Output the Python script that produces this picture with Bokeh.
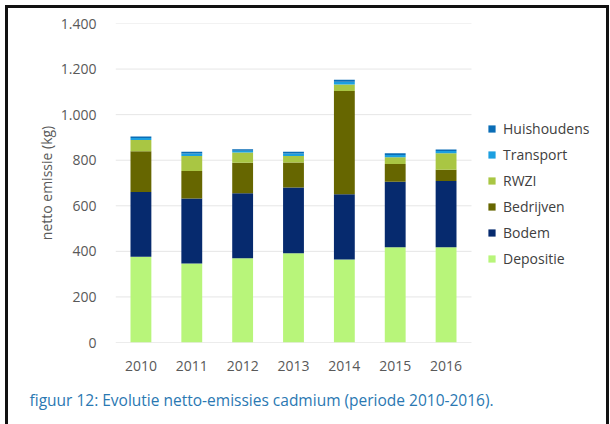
from bokeh.plotting import figure
from bokeh.models import (Range1d, FixedTicker, Legend, LegendItem, Title, ColumnDataSource)
from bokeh.embed import file_html
from bokeh.resources import INLINE

years = ["2010", "2011", "2012", "2013", "2014", "2015", "2016"]
depositie = [376, 347, 370, 392, 364, 418, 418]
bodem = [285, 285, 285, 288, 287, 288, 291]
bedrijven = [178, 121, 134, 110, 453, 77, 49]
rwzi = [50, 66, 45, 28, 28, 30, 73]
transport = [9, 11, 8, 11, 12, 10, 9]
huishoudens = [6, 7, 6, 8, 9, 8, 7]

series_names = ["Depositie", "Bodem", "Bedrijven", "RWZI", "Transport", "Huishoudens"]
colors = ["#b8f57a", "#062a6e", "#666600", "#a9c643", "#1c9fe0", "#0a6db6"]
y_ticks = [0, 200, 400, 600, 800, 1000, 1200, 1400]
y_tick_labels = ["0", "200", "400", "600", "800", "1.000", "1.200", "1.400"]
y_title = "netto emissie (kg)"
caption = "figuur 12: Evolutie netto-emissies cadmium (periode 2010-2016)."

FONT = "Open Sans"
W, H = 609, 424
LEFT, TOP, BOTTOM = 115, 23, 82
CAT_PX = 356 / len(years)          # pixel width of one category slot

xs = list(range(1, len(years) + 1))
x_end = 0.5 + (W - LEFT) / CAT_PX  # frame extends under the legend

p = figure(x_range=Range1d(0.5, x_end), y_range=Range1d(0, 1400),
           width=W, height=H, output_backend="svg", toolbar_location=None,
           min_border_left=LEFT, min_border_right=0, min_border_top=TOP,
           min_border_bottom=BOTTOM)
p.styles = {"box-shadow": "inset 5px 5px 0 0 #ffffff, inset 8px 8px 0 0 #111111, inset -3px 0 0 0 #111111",
            "background": "#ffffff"}
p.outline_line_color = None
p.background_fill_alpha = 0
p.border_fill_alpha = 0

# gridlines limited to the category area
p.xgrid.grid_line_color = None
p.ygrid.grid_line_color = None
grid_src = ColumnDataSource({"y": y_ticks,
                             "x0": [0.5] * len(y_ticks),
                             "x1": [len(years) + 0.5] * len(y_ticks),
                             "c": ["#d9d9d9"] + ["#e6e6e6"] * (len(y_ticks) - 1)})
p.segment(x0="x0", x1="x1", y0="y", y1="y", color="c", line_width=1, source=grid_src)

data = {"x": xs, "Depositie": depositie, "Bodem": bodem,
        "Bedrijven": bedrijven, "RWZI": rwzi, "Transport": transport,
        "Huishoudens": huishoudens}
renderers = p.vbar_stack(series_names, x="x", width=0.41, color=colors,
                         source=data, line_color=None)

p.yaxis.ticker = FixedTicker(ticks=y_ticks)
p.yaxis.major_label_overrides = {t: l for t, l in zip(y_ticks, y_tick_labels)}
p.xaxis.ticker = FixedTicker(ticks=xs)
p.xaxis.major_label_overrides = {x: y for x, y in zip(xs, years)}
for ax in (p.xaxis[0], p.yaxis[0]):
    ax.major_tick_line_color = None
    ax.minor_tick_line_color = None
    ax.axis_line_color = None
    ax.major_label_text_font = FONT
    ax.major_label_text_font_size = "14px"
    ax.major_label_text_color = "#595959"
p.yaxis.major_label_standoff = 13
p.xaxis.major_label_standoff = 12
p.yaxis.axis_label = y_title
p.yaxis.axis_label_text_font = FONT
p.yaxis.axis_label_text_font_size = "14px"
p.yaxis.axis_label_text_font_style = "normal"
p.yaxis.axis_label_text_color = "#595959"
p.yaxis.axis_label_standoff = 2

items = [LegendItem(label=n, renderers=[r]) for n, r in zip(series_names, renderers)]
items.reverse()
legend = Legend(items=items, location=(372, 74), padding=0, margin=0,
                border_line_color=None, background_fill_alpha=0,
                glyph_width=9, glyph_height=9, label_height=9,
                label_standoff=7, spacing=7,
                label_text_font=FONT, label_text_font_size="14px",
                label_text_color="#404040")
p.add_layout(legend, "center")

cap = Title(text=caption, align="left", offset=-86, standoff=27,
            text_font=FONT, text_font_size="15.5px", text_font_style="normal",
            text_color="#2a78b2")
p.add_layout(cap, "below")

open("out.html", "w").write(file_html(p, INLINE))
